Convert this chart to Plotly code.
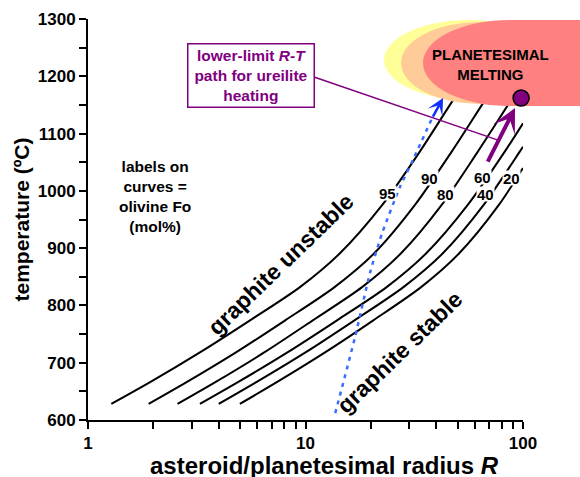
import math
import plotly.graph_objects as go

# Graphite stability limits: asteroid radius R (km) vs temperature (°C),
# one curve per olivine Fo content (mol%)
fo95_R = [1.28, 1.93, 3.27, 5.56, 9.43, 14.4, 22.5, 33.6, 47.6, 57.0]
fo95_T = [628, 666, 718, 774, 832, 891, 975, 1069, 1158, 1202]
fo90_R = [1.90, 2.84, 4.79, 8.07, 13.6, 20.7, 31.8, 47.1, 66.8, 80.0]
fo90_T = [628, 666, 718, 774, 832, 891, 975, 1069, 1158, 1202]
fo80_R = [2.58, 3.85, 6.46, 10.8, 18.2, 27.5, 42.2, 62.1, 88.1, 100]
fo80_T = [628, 666, 718, 774, 832, 891, 975, 1069, 1158, 1189]
fo60_R = [3.27, 4.89, 8.26, 13.96, 23.6, 35.9, 55.6, 82.6, 100]
fo60_T = [628, 666, 718, 774, 832, 891, 975, 1069, 1118]
fo40_R = [3.99, 5.94, 10.0, 16.8, 28.2, 42.8, 65.8, 96.8, 100]
fo40_T = [628, 666, 718, 774, 832, 891, 975, 1069, 1077]
fo20_R = [4.99, 7.38, 12.3, 20.5, 34.0, 50.9, 77.3, 100]
fo20_T = [628, 666, 718, 774, 832, 891, 975, 1040]

curve_names = ["95", "90", "80", "60", "40", "20"]
curve_R = [fo95_R, fo90_R, fo80_R, fo60_R, fo40_R, fo20_R]
curve_T = [fo95_T, fo90_T, fo80_T, fo60_T, fo40_T, fo20_T]

# where each Fo label sits on its curve (R, T)
label_R = [23.7, 37.0, 43.8, 64.8, 66.9, 88.1]
label_T = [996, 1023, 994, 1024, 994, 1023]

# ureilite heating path (blue dotted), ending in an arrow
path_R = [13.7, 16.9, 19.8, 22.5, 27.2, 31.2, 38.2]
path_T = [612, 745, 857, 926, 1007, 1054, 1127]
path_tip_R, path_tip_T = 42.9, 1162

# lower-limit R-T arrow and melting point
arrow_tail_R, arrow_tail_T = 68.3, 1048.5
arrow_tip_R, arrow_tip_T = 91.9, 1144.5
melt_R, melt_T = 98.0, 1162

x_ticks = [1, 2, 3, 4, 5, 6, 7, 8, 9, 10, 20, 30, 40, 50, 60, 70, 80, 90, 100]
x_labels = {1: "1", 10: "10", 100: "100"}
y_ticks = [600, 650, 700, 750, 800, 850, 900, 950, 1000, 1050,
           1100, 1150, 1200, 1250, 1300]

PURPLE = "#800080"
BLUE_DOT = "#3a6cff"
BLUE_HEAD = "#1030ff"
FONT = "Liberation Sans, Arial, sans-serif"

X_RANGE = [0, 2]
Y_RANGE = [600, 1300]


def to_paper(r, t):
    px = (math.log10(r) - X_RANGE[0]) / (X_RANGE[1] - X_RANGE[0])
    py = (t - Y_RANGE[0]) / (Y_RANGE[1] - Y_RANGE[0])
    return px, py


def px2paper(x, y):
    # figure pixel -> paper fraction (plot area 88..523 x 19..420)
    return (x - 88) / 435, (420 - y) / 401


fig = go.Figure()

for name, rs, ts in zip(curve_names, curve_R, curve_T):
    fig.add_trace(go.Scatter(
        x=rs, y=ts, mode="lines", name=name,
        line=dict(color="black", width=2, shape="spline", smoothing=0.8),
        hoverinfo="skip",
    ))

fig.add_trace(go.Scatter(
    x=path_R, y=path_T, mode="lines",
    line=dict(color=BLUE_DOT, width=2.5, dash="4px,5px", shape="spline", smoothing=0.6),
    hoverinfo="skip",
))

annotations = []

# Fo labels on the curves
for name, r, t in zip(curve_names, label_R, label_T):
    annotations.append(dict(
        x=math.log10(r), y=t, xref="x", yref="y", text=name, showarrow=False,
        xanchor="center", yanchor="middle", height=14,
        font=dict(family=FONT, size=15, color="black", weight="bold"),
        bgcolor="white", borderpad=0,
    ))

# arrowhead of the heating path
annotations.append(dict(
    x=math.log10(path_tip_R), y=path_tip_T, xref="x", yref="y",
    ax=math.log10(path_R[-1]), ay=path_T[-1], axref="x", ayref="y",
    text="", showarrow=True, arrowhead=3, arrowsize=1.1, arrowwidth=2.5,
    arrowcolor=BLUE_HEAD,
))

# purple R-T arrow
annotations.append(dict(
    x=math.log10(arrow_tip_R), y=arrow_tip_T, xref="x", yref="y",
    ax=math.log10(arrow_tail_R), ay=arrow_tail_T, axref="x", ayref="y",
    text="", showarrow=True, arrowhead=3, arrowsize=1.0, arrowwidth=4,
    arrowcolor=PURPLE,
))

annotations += [
    dict(x=math.log10(7.71), y=872, xref="x", yref="y", text="graphite unstable",
         showarrow=False, textangle=-44, xanchor="center", yanchor="middle",
         font=dict(family=FONT, size=23, color="black", weight="bold")),
    dict(x=math.log10(27.2), y=718, xref="x", yref="y", text="graphite stable",
         showarrow=False, textangle=-44, xanchor="center", yanchor="middle",
         font=dict(family=FONT, size=23, color="black", weight="bold")),
    dict(x=math.log10(2.03), y=991, xref="x", yref="y",
         text="labels on<br>curves =<br>olivine Fo<br>(mol%)",
         showarrow=False, xanchor="center", yanchor="middle",
         font=dict(family=FONT, size=15.5, color="black", weight="bold")),
    dict(x=math.log10(5.61), y=1202, xref="x", yref="y",
         text="lower-limit <i>R-T</i><br>path for ureilite<br>heating",
         showarrow=False, width=122, height=59, xanchor="center", yanchor="middle",
         bordercolor=PURPLE, borderwidth=1.5, borderpad=1.5, bgcolor="white",
         font=dict(family=FONT, size=15.5, color=PURPLE, weight="bold")),
]
tx, ty = px2paper(490, 64)
annotations.append(dict(
    x=tx, y=ty, xref="paper", yref="paper", xanchor="center", yanchor="middle",
    text="PLANETESIMAL<br>MELTING", showarrow=False,
    font=dict(family=FONT, size=15, color="black", weight="bold"),
))

# x-axis title
tx, ty = px2paper(324, 465)
annotations.append(dict(
    x=tx, y=ty, xref="paper", yref="paper", xanchor="center", yanchor="middle",
    text="asteroid/planetesimal radius <i>R</i>", showarrow=False, height=24,
    font=dict(family=FONT, size=24, color="black", weight="bold"),
))

# melting regions (yellow, peach, pink)
shapes = []
for (x0, y0, x1, y1, col) in [
    (384, 100, 554, 20, "#ffff99"),
    (401, 104, 561, 22, "#ffcc99"),
    (423, 106, 597, 20, "#ff8080"),
]:
    a0, b0 = px2paper(x0, y0)
    a1, b1 = px2paper(x1, y1)
    shapes.append(dict(type="circle", xref="paper", yref="paper",
                       x0=a0, y0=b0, x1=a1, y1=b1,
                       fillcolor=col, line=dict(width=0), layer="above"))
a0, b0 = px2paper(510, 106)
a1, b1 = px2paper(600, 20)
shapes.append(dict(type="rect", xref="paper", yref="paper",
                   x0=a0, y0=b0, x1=a1, y1=b1,
                   fillcolor="#ff8080", line=dict(width=0), layer="above"))

# connector from the label box to the R-T arrow
lx0, ly0 = px2paper(314, 77)
lx1, ly1 = to_paper(76.7, 1088.6)
shapes.append(dict(type="line", xref="paper", yref="paper",
                   x0=lx0, y0=ly0, x1=lx1, y1=ly1,
                   line=dict(color=PURPLE, width=1.5), layer="above"))

# melting point marker
mx, my = to_paper(melt_R, melt_T)
shapes.append(dict(type="circle", xref="paper", yref="paper",
                   xsizemode="pixel", ysizemode="pixel",
                   xanchor=mx, yanchor=my,
                   x0=-8, x1=8, y0=-8, y1=8,
                   fillcolor=PURPLE, line=dict(color="black", width=1.5),
                   layer="above"))

fig.update_layout(
    width=580, height=477,
    margin=dict(l=88, r=57, t=19, b=57, autoexpand=False),
    paper_bgcolor="white", plot_bgcolor="white",
    showlegend=False,
    font=dict(family=FONT, color="black"),
    annotations=annotations,
    shapes=shapes,
)

fig.update_xaxes(
    type="log", range=X_RANGE, automargin=False,
    tickmode="array", tickvals=x_ticks,
    ticktext=[x_labels.get(v, "") for v in x_ticks],
    ticks="outside", ticklen=7, tickwidth=2, tickcolor="black",
    showline=True, linewidth=2, linecolor="black",
    showgrid=False, zeroline=False,
    tickfont=dict(family=FONT, size=17, color="black", weight="bold"),
)

fig.update_yaxes(
    range=Y_RANGE, automargin=False, tickmode="array", tickvals=y_ticks,
    ticktext=[str(v) if v % 100 == 0 else "" for v in y_ticks],
    ticks="outside", ticklen=7, tickwidth=2, tickcolor="black",
    showline=True, linewidth=2, linecolor="black",
    showgrid=False, zeroline=False,
    tickfont=dict(family=FONT, size=17, color="black", weight="bold"),
    title=dict(text="temperature (ºC)", standoff=2,
               font=dict(family=FONT, size=21, color="black", weight="bold")),
)

fig.write_html("out.html")
